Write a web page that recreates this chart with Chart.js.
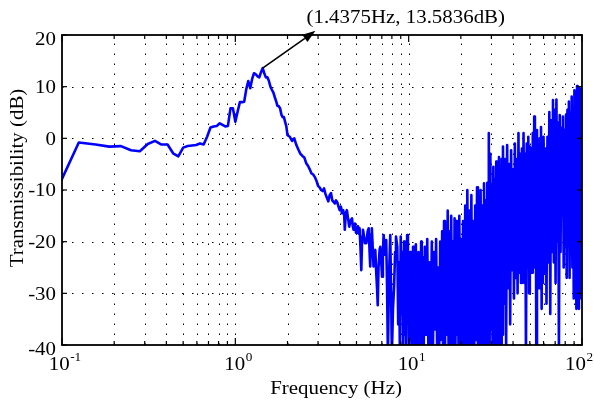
<!DOCTYPE html>
<html><head><meta charset="utf-8">
<script src="https://cdn.jsdelivr.net/npm/chart.js@4.4.1/dist/chart.umd.min.js"></script>
<style>html,body{margin:0;padding:0;background:#fff;}#wrap{width:594px;height:402px;}</style>
</head><body><div id="wrap"><canvas id="c" width="594" height="402"></canvas></div>
<script>
// ---- data ----
const freqSmooth = [0.09375,0.125,0.15625,0.1875,0.21875,0.25,0.28125,0.3125,0.34375,0.375,0.40625,0.4375,0.46875,0.5,0.53125,0.5625,0.59375,0.625,0.65625,0.6875,0.71875,0.75,0.78125,0.8125,0.84375,0.875,0.90625,0.9375,0.96875,1.0,1.03125,1.0625,1.09375,1.125,1.15625,1.1875,1.21875,1.25,1.28125,1.3125,1.34375,1.375,1.40625,1.4375,1.46875,1.5,1.53125,1.5625,1.59375,1.625,1.65625,1.6875,1.71875,1.75,1.78125,1.8125,1.84375,1.875,1.90625,1.9375,1.96875,2.0,2.0625,2.125,2.1875,2.25,2.3125,2.375,2.4375,2.5,2.5625,2.625,2.6875,2.75,2.8125,2.875,2.9375,3.0,3.0625,3.125,3.1875,3.25,3.3125,3.375,3.4375,3.5,3.5625,3.625,3.6875,3.75,3.8125,3.875];
const dbSmooth = [-9.9,-0.8,-1.2,-1.6,-1.5,-2.3,-2.5,-1.1,-0.5,-1.2,-1.2,-2.9,-3.5,-1.8,-1.5,-1.4,-1.3,-1.0,-1.2,0.3,2.1,2.3,2.4,2.9,2.6,2.3,2.4,5.8,5.8,3.2,5.2,7.0,7.0,7.1,9.5,11.1,9.7,11.5,12.6,12.4,12.0,11.8,12.8,13.5836,12.6,11.8,11.8,11.1,10.0,9.4,8.9,8.0,7.2,6.3,6.2,5.8,4.6,4.1,4.1,3.2,2.3,0.6,0.3,-0.5,0.0,-1.3,-2.2,-3.0,-3.4,-3.7,-4.8,-5.3,-6.0,-6.8,-7.0,-7.5,-8.2,-9.2,-9.5,-10.0,-10.2,-9.7,-10.8,-11.5,-12.2,-11.0,-10.6,-12.0,-12.3,-12.6,-12.0,-12.4];

const freqMid = [3.9375,4.0,4.0625,4.125,4.1875,4.25,4.28,4.34,4.4,4.47,4.54,4.62,4.71,4.76,4.81,4.9,4.97,5.03,5.1,5.17,5.21,5.27,5.33,5.39,5.45,5.5,5.6,5.7,5.8,5.88,5.95,6.0,6.07,6.13,6.2,6.27,6.35,6.42,6.5,6.58,6.63,6.7,6.8,6.86,6.95,7.02,7.1,7.17,7.3,7.42,7.5,7.59,7.7,7.83,7.92,8.0,8.12,8.24,8.35,8.45];
const dbMid = [-13.2,-13.9,-13.2,-14.5,-13.9,-15.0,-17.7,-14.5,-13.9,-15.5,-17.1,-15.9,-15.5,-17.0,-17.7,-16.5,-18.3,-18.1,-17.0,-18.5,-17.4,-21.0,-25.5,-19.0,-17.7,-18.5,-20.3,-20.3,-18.0,-17.4,-22.0,-24.8,-19.0,-17.4,-21.0,-24.8,-22.0,-21.6,-26.0,-29.5,-32.3,-25.0,-21.5,-21.0,-24.0,-26.8,-22.0,-18.7,-22.5,-19.7,-28.0,-42,-27.0,-18.7,-30.0,-42,-33.0,-28.7,-22.0,-19.0];

const freqBand1 = [8.6,8.7,8.8,8.9,9.0,9.1,9.2,9.3,9.4,9.5,9.6,9.7,9.8,9.9,10.0,10.1,10.2,10.3,10.4,10.5,10.6,10.7,10.8,10.9,11.0,11.1,11.2,11.3,11.4,11.5,11.6,11.7,11.8,11.9,12.0,12.2,12.4,12.6,12.8,13.0,13.2,13.4,13.6,13.8,14.0,14.2,14.4,14.6,14.8,15.0,15.2,15.4,15.6,15.8,16.0,16.2,16.4,16.6,16.8,17.0,17.2,17.4,17.6,17.8,18.0,18.2,18.4,18.6,18.8,19.0,19.2,19.4,19.6,19.8,20.0];
const dbBand1 = [-21,-36,-24,-42,-19,-34,-22,-42,-20,-38,-26,-42,-18.7,-35,-23,-42,-22,-39,-25,-42,-21,-38,-27,-42,-20.5,-42,-24,-36,-22,-42,-26,-40,-20,-42,-23,-42,-21,-38,-19.5,-42,-24,-40,-20,-42,-22,-37,-19.5,-42,-25,-42,-20,-39,-18,-42,-16,-42,-21,-38,-14,-42,-18,-42,-15,-40,-20,-42,-15.5,-42,-16,-38,-19,-42,-15,-42,-19.5];

const freqBand2 = [20.3,20.6,20.9,21.2,21.5,21.8,22.1,22.4,22.7,23.0,23.3,23.6,23.9,24.2,24.5,24.8,25.1,25.4,25.7,26.0,26.3,26.6,26.9,27.2,27.5,27.8,28.1,28.4,28.7,29.0,29.3,29.6,29.9,30.2,30.5,30.8,31.1,31.4,31.7,32.0,32.3,32.6,32.9,33.2,33.5,33.8,34.1,34.4,34.7,35.0];
const dbBand2 = [-42,-16,-42,-13,-42,-10,-40,-14,-42,-11,-42,-16,-42,-13,-39,-9.5,-42,-15,-42,-10,-42,-13,-40,-8.7,-42,-12,-42,-8.6,-42,1.0,-42,-3,-37,-9,-42,-5.5,-42,-8,-36,-4.5,-42,-7,-40,-3.6,-34,-6,-42,-4,-38,-1.6];

const freqBand3 = [35.5,36.0,36.5,37.0,37.5,38.0,38.5,39.0,39.5,40.0,40.5,41.0,41.5,42.0,42.5,43.0,43.5,44.0,44.5,45.0,45.5,46.0,46.5,47.0,47.5,48.0,48.5,49.0,49.5,50.0,50.5,51.0,51.5,52.0,52.5,53.0,53.5,54.0,54.5,55.0,55.5,56.0,56.5,57.0,57.5,58.0,58.5,59.0,59.5,60.0];
const dbBand3 = [-32,-4,-40,-1.3,-29,-5,-36,-2.3,-25.5,-6,-31,-1.0,-27,-4,-30,1.0,-26,-3,-28,-2,-24,1.0,-28,-3,-42,-1,-25,0.3,-30,-1.6,-22,-2,-26,1,-21,4.2,-25,-1,-42,1.6,-24,-2,-29,0,-25,2.2,-33,-1,-28,0.3];

const freqBand4 = [60.8,61.6,62.4,63.2,64.0,64.8,65.6,66.4,67.2,68.0,68.8,69.6,70.4,71.2,72.0,72.8,73.6,74.4,75.2,76.0,76.8,77.6,78.4,79.2,80.0,80.8,81.6,82.4,83.2,84.0,84.8,85.6,86.4,87.2,88.0,88.8,89.6,90.4,91.2,92.0,92.8,93.6,94.4,95.2,96.0,96.8,97.6,98.4,99.2,100.0];
const dbBand4 = [-26,-2,-32,0.3,-24,5.1,-34,3.5,-22,7.4,-24,5.5,-28,7.5,-20,3,-42,4.5,-22,2,-15,4.2,-25,1.6,-21,4.5,-27,5.5,-20,7.1,-27,5,-22,8.1,-25,6,-31,9.3,-23,8,-33,10.1,-26,8.5,-33,9.7,-21,9,-31,9.9];

// axes / ticks / annotation
const yTicks = [20,10,0,-10,-20,-30,-40];
const gridY = [10,0,-10,-20,-30];
const xMajor = [0.1,1,10,100];
const xExponents = ['-1','0','1','2'];
const xMinor = [0.2,0.3,0.4,0.5,0.6,0.7,0.8,0.9,2,3,4,5,6,7,8,9,20,30,40,50,60,70,80,90];
const gridX = [0.2,0.3,0.4,0.5,0.6,0.7,0.8,0.9,1,2,3,4,5,6,7,8,9,10,20,30,40,50,60,70,80,90];
const peakFreq = 1.4375, peakDb = 13.5836;
const arrowEnd = [2.9, 20.8];
const peakLabel = '(1.4375Hz, 13.5836dB)';
const xTitle = 'Frequency (Hz)';
const yTitle = 'Transmissibility (dB)';

function pts(f, d){ const n = Math.min(f.length, d.length); const o=[]; for(let i=0;i<n;i++) o.push({x:f[i], y:d[i]}); return o; }
const points = [].concat(pts(freqSmooth,dbSmooth), pts(freqMid,dbMid), pts(freqBand1,dbBand1), pts(freqBand2,dbBand2), pts(freqBand3,dbBand3), pts(freqBand4,dbBand4));

const FONT = '"Liberation Serif","Times New Roman",serif';
const SX = 1.1;
function txt(ctx, s, x, y, size, align, rot){
  ctx.save(); ctx.translate(x,y); if(rot) ctx.rotate(rot); ctx.scale(SX,1);
  ctx.font = size+'px '+FONT; ctx.textAlign = align||'left'; ctx.textBaseline='alphabetic';
  ctx.fillStyle='#000'; ctx.fillText(s,0,0); ctx.restore();
}
function tw(ctx, s, size){ ctx.save(); ctx.font = size+'px '+FONT; const w = ctx.measureText(s).width*SX; ctx.restore(); return w; }

const deco = {
  id:'deco',
  beforeDatasetsDraw(chart){
    const {ctx, chartArea:a, scales:{x,y}} = chart;
    ctx.save(); ctx.strokeStyle='#000'; ctx.lineWidth=1; ctx.setLineDash([1.5,8.5]);
    gridX.forEach(v=>{ const px=Math.round(x.getPixelForValue(v))+0.5; ctx.beginPath(); ctx.moveTo(px,a.bottom); ctx.lineTo(px,a.top); ctx.stroke(); });
    gridY.forEach(v=>{ const py=Math.round(y.getPixelForValue(v))+0.5; ctx.beginPath(); ctx.moveTo(a.left,py); ctx.lineTo(a.right,py); ctx.stroke(); });
    ctx.restore();
  },
  afterDatasetsDraw(chart){
    const {ctx, chartArea:a, scales:{x,y}} = chart;
    ctx.save();
    ctx.strokeStyle='#000'; ctx.lineWidth=1.8; ctx.setLineDash([]);
    ctx.strokeRect(a.left, a.top, a.right-a.left, a.bottom-a.top);
    ctx.lineWidth=1.2;
    const tick=(x1,y1,x2,y2)=>{ctx.beginPath();ctx.moveTo(x1,y1);ctx.lineTo(x2,y2);ctx.stroke();};
    xMajor.forEach(v=>{const px=x.getPixelForValue(v); tick(px,a.bottom,px,a.bottom-7); tick(px,a.top,px,a.top+7);});
    xMinor.forEach(v=>{const px=x.getPixelForValue(v); tick(px,a.bottom,px,a.bottom-4); tick(px,a.top,px,a.top+4);});
    yTicks.forEach(v=>{const py=y.getPixelForValue(v); tick(a.left,py,a.left+5,py); tick(a.right,py,a.right-5,py);});
    yTicks.forEach((v,i)=>{ const py=y.getPixelForValue(v); const off=(i===0||i===yTicks.length-1)?4:0; txt(ctx, String(v), 56, py+6.4+off, 19, 'right'); });
    xMajor.forEach((v,i)=>{
      const px=x.getPixelForValue(v); const w1=tw(ctx,'10',19), w2=tw(ctx,xExponents[i],12); const tot=w1+w2+0.5;
      let s=px-tot/2+3; if(s+tot>593) s=593-tot;
      txt(ctx,'10',s,370,19,'left'); txt(ctx,xExponents[i],s+w1+0.5,360.5,12,'left');
    });
    txt(ctx, xTitle, 336, 393.5, 19, 'center');
    txt(ctx, yTitle, 23, 178, 19, 'center', -Math.PI/2);
    const x0=x.getPixelForValue(peakFreq), y0=y.getPixelForValue(peakDb);
    const x1=x.getPixelForValue(arrowEnd[0]), y1=y.getPixelForValue(arrowEnd[1]);
    const ang=Math.atan2(y1-y0,x1-x0), hl=13, hw=4.5;
    const bx=x1-hl*Math.cos(ang), by=y1-hl*Math.sin(ang);
    ctx.strokeStyle='#000'; ctx.lineWidth=1.6;
    tick(x0,y0,bx,by);
    ctx.fillStyle='#000'; ctx.beginPath(); ctx.moveTo(x1,y1);
    ctx.lineTo(bx+hw*Math.sin(ang), by-hw*Math.cos(ang));
    ctx.lineTo(bx-hw*Math.sin(ang), by+hw*Math.cos(ang));
    ctx.closePath(); ctx.fill();
    txt(ctx, peakLabel, x1-9, y1-7.5, 19, 'left');
    ctx.restore();
  }
};

new Chart(document.getElementById('c').getContext('2d'), {
  type:'line',
  data:{datasets:[{data:points, borderColor:'#0000ff', borderWidth:2.6, pointRadius:0, tension:0, fill:false, clip:0, borderJoinStyle:'round', borderCapStyle:'round'}]},
  options:{
    responsive:false, animation:false, events:[],
    layout:{padding:{left:62,right:12,top:35,bottom:57}},
    plugins:{legend:{display:false}, tooltip:{enabled:false}},
    scales:{
      x:{type:'logarithmic', min:0.1, max:100, display:false},
      y:{type:'linear', min:-40, max:20, display:false}
    }
  },
  plugins:[deco]
});
</script></body></html>
